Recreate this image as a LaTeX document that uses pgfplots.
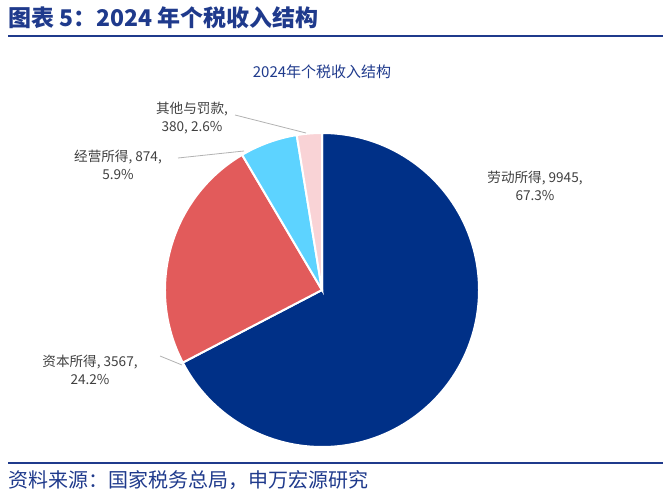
\documentclass[border=0pt]{standalone}
\usepackage{pgfplots}
\pgfplotsset{compat=1.18}
\usepackage{fontspec}
\setmainfont{Noto Sans CJK SC}
\definecolor{hdr}{HTML}{1F3A8C}
\definecolor{c1}{HTML}{003087}
\definecolor{c2}{HTML}{E25B5B}
\definecolor{c3}{HTML}{5DD3FF}
\definecolor{c4}{HTML}{F9D3D6}
\begin{document}
\begin{tikzpicture}
\begin{axis}[x=0.5pt,y=0.5pt,xmin=0,xmax=669,ymin=0,ymax=497,y dir=reverse,
  axis lines=none,scale only axis,clip=false,ticks=none]
\path (axis cs:0,0) rectangle (axis cs:669,497);
% data
\def\va{9945}\def\vb{3567}\def\vc{874}\def\vd{380}
\pgfmathsetmacro{\tot}{\va+\vb+\vc+\vd}
\pgfmathsetmacro{\aa}{90-\va/\tot*360}
\pgfmathsetmacro{\ab}{\aa-\vb/\tot*360}
\pgfmathsetmacro{\ac}{\ab-\vc/\tot*360}
\def\R{78.5pt}
\fill[c1,draw=white,line width=1pt] (axis cs:322,290) -- ++(90:\R) arc[start angle=90,end angle=\aa,radius=\R] -- cycle;
\fill[c2,draw=white,line width=1pt] (axis cs:322,290) -- ++(\aa:\R) arc[start angle=\aa,end angle=\ab,radius=\R] -- cycle;
\fill[c3,draw=white,line width=1pt] (axis cs:322,290) -- ++(\ab:\R) arc[start angle=\ab,end angle=\ac,radius=\R] -- cycle;
\fill[c4,draw=white,line width=1pt] (axis cs:322,290) -- ++(\ac:\R) arc[start angle=\ac,end angle=-270,radius=\R] -- cycle;
% header
\node[anchor=west,font=\bfseries\fontsize{11.5}{13}\selectfont,text=hdr,inner sep=0] at (axis cs:8,18) {图表 5：2024 年个税收入结构};
\draw[hdr,line width=1.2pt] (axis cs:8,36) -- (axis cs:663,36);
\draw[hdr,line width=1pt] (axis cs:8,463) -- (axis cs:663,463);
\node[anchor=west,font=\fontsize{10}{12}\selectfont,text=hdr,inner sep=0] at (axis cs:8,480) {资料来源：国家税务总局，申万宏源研究};
\node[font=\fontsize{7.5}{9}\selectfont,text=hdr] at (axis cs:322,72) {2024年个税收入结构};
% labels
\begin{scope}[font=\fontsize{6.8}{9}\selectfont,text=black!75]
\node[align=center] at (axis cs:535,186) {劳动所得, 9945,\\67.3\%};
\node[align=center] at (axis cs:90,370) {资本所得, 3567,\\24.2\%};
\node[align=center] at (axis cs:118,165) {经营所得, 874,\\5.9\%};
\node[align=center] at (axis cs:192,118) {其他与罚款,\\380, 2.6\%};
\end{scope}
\draw[gray!60,line width=0.4pt] (axis cs:235,115) -- (axis cs:306,133);
\draw[gray!60,line width=0.4pt] (axis cs:178,158) -- (axis cs:244,151);
\draw[gray!60,line width=0.4pt] (axis cs:160,356) -- (axis cs:182,365);
\end{axis}
\end{tikzpicture}
\end{document}
